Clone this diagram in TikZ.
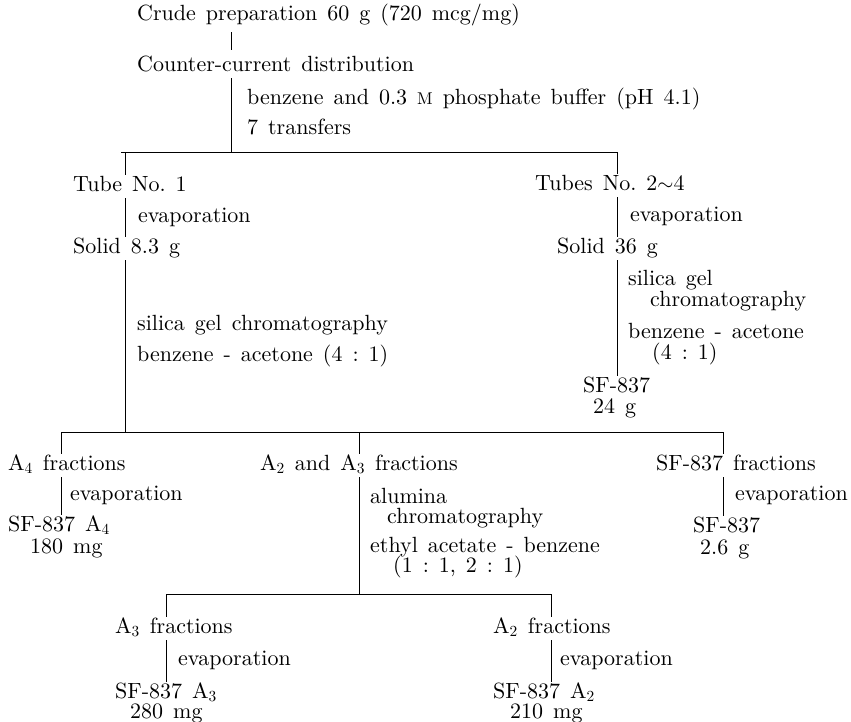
\documentclass[tikz,border=0pt]{standalone}
\usepackage{fontspec}
\newfontfamily\diagfam{lmroman10-regular}[Extension=.otf]
\protected\def\diagfont{\diagfam\fontsize{22}{22}\selectfont\frenchspacing\spaceskip=10pt plus 1pt\relax}
\protected\def\smM{{\fontsize{17}{17}\selectfont M}}
\begin{document}
\begin{tikzpicture}[x=1pt,y=-1pt,
  txt/.style={anchor=base west,inner sep=0pt,font=\diagfont},
  conn/.style={line width=0.8pt}]
\useasboundingbox (0,0) rectangle (851,721);
% column / bus coordinates
\coordinate (cA) at (231,0);
\coordinate (cB) at (125.5,0);
\coordinate (cC) at (617.5,0);
\coordinate (cD) at (61,0);
\coordinate (cE) at (359,0);
\coordinate (cF) at (723.5,0);
\coordinate (cG) at (166.5,0);
\coordinate (cH) at (551.5,0);
\coordinate (b1) at (0,152);
\coordinate (b2) at (0,432);
\coordinate (b3) at (0,594);
% texts
\node[txt] (crude) at (137,20) {Crude preparation 60 g (720 mcg/mg)};
\node[txt] (ccd) at (137,71) {Counter-current distribution};
\node[txt] (bz) at (247,104) {benzene and 0.3 \smM\ phosphate buffer (pH 4.1)};
\node[txt] (tr) at (247,134) {7 transfers};
% left branch
\node[txt] (tube1) at (73,191) {Tube No. 1};
\node[txt] (ev1) at (138,222) {evaporation};
\node[txt] (solid1) at (73,253) {Solid 8.3 g};
\node[txt] (sg1) at (137,330) {silica gel chromatography};
\node[txt] (ba1) at (137,361) {benzene - acetone (4 : 1)};
% right branch
\node[txt] (tubes) at (535,190) {Tubes No. 2$\sim$4};
\node[txt] (ev2) at (630,221) {evaporation};
\node[txt] (solid2) at (557,253) {Solid 36 g};
\node[txt] (sg2a) at (628,285) {silica gel};
\node[txt] (sg2b) at (650,306) {chromatography};
\node[txt] (ba2a) at (628,338) {benzene - acetone};
\node[txt] (ba2b) at (652,359) {(4 : 1)};
\node[txt] (sf24) at (583,392) {SF-837};
\node[txt] (sf24b) at (593,413) {24 g};
% second level
\node[txt] (a4) at (8,470) {A\textsubscript{4} fractions};
\node[txt] (ev3) at (70,500) {evaporation};
\node[txt] (sfa4) at (8,531) {SF-837 A\textsubscript{4}};
\node[txt] (sfa4b) at (30,553) {180 mg};
\node[txt] (a23) at (260,470) {A\textsubscript{2} and A\textsubscript{3} fractions};
\node[txt] (al1) at (370,503) {alumina};
\node[txt] (al2) at (387,523) {chromatography};
\node[txt] (ea1) at (370,552) {ethyl acetate - benzene};
\node[txt] (ea2) at (393,572) {(1 : 1, 2 : 1)};
\node[txt] (sff) at (656,470) {SF-837 fractions};
\node[txt] (ev4) at (735,500) {evaporation};
\node[txt] (sf26) at (693,532) {SF-837};
\node[txt] (sf26b) at (700,554) {2.6 g};
% third level
\node[txt] (a3) at (115,633) {A\textsubscript{3} fractions};
\node[txt] (ev5) at (178,665) {evaporation};
\node[txt] (sfa3) at (115,698) {SF-837 A\textsubscript{3}};
\node[txt] (sfa3b) at (130,718) {280 mg};
\node[txt] (a2) at (493,633) {A\textsubscript{2} fractions};
\node[txt] (ev6) at (560,665) {evaporation};
\node[txt] (sfa2) at (493,698) {SF-837 A\textsubscript{2}};
\node[txt] (sfa2b) at (510,718) {210 mg};
% connectors (tops 16pt above a baseline, bottoms 7pt below)
\tikzset{up/.style={yshift=16pt},dn/.style={yshift=-7pt}}
\draw[conn] ([yshift=-12pt]crude.base -| cA) -- ([yshift=21pt]ccd.base -| cA);
\draw[conn] ([dn]ccd.base -| cA) -- (b1 -| cA);
\draw[conn] ([xshift=-4.5pt]b1 -| cB) -- (b1 -| cC);
\draw[conn] (b1 -| cB) -- ([up]tube1.base -| cB);
\draw[conn] (b1 -| cC) -- ([up]tubes.base -| cC);
\draw[conn] ([dn]tube1.base -| cB) -- ([up]solid1.base -| cB);
\draw[conn] ([dn]solid1.base -| cB) -- (b2 -| cB);
\draw[conn] ([dn]tubes.base -| cC) -- ([up]solid2.base -| cC);
\draw[conn] ([dn]solid2.base -| cC) -- ([up]sf24.base -| cC);
\draw[conn] (b2 -| cD) -- (b2 -| cF);
\draw[conn] (b2 -| cD) -- ([up]a4.base -| cD);
\draw[conn] (b2 -| cE) -- ([up]a23.base -| cE);
\draw[conn] (b2 -| cF) -- ([up]sff.base -| cF);
\draw[conn] ([dn]a4.base -| cD) -- ([up]sfa4.base -| cD);
\draw[conn] ([dn]a23.base -| cE) -- (b3 -| cE);
\draw[conn] ([dn]sff.base -| cF) -- ([up]sf26.base -| cF);
\draw[conn] (b3 -| cG) -- (b3 -| cH);
\draw[conn] (b3 -| cG) -- ([up]a3.base -| cG);
\draw[conn] (b3 -| cH) -- ([up]a2.base -| cH);
\draw[conn] ([dn]a3.base -| cG) -- ([up]sfa3.base -| cG);
\draw[conn] ([dn]a2.base -| cH) -- ([up]sfa2.base -| cH);
\end{tikzpicture}
\end{document}
